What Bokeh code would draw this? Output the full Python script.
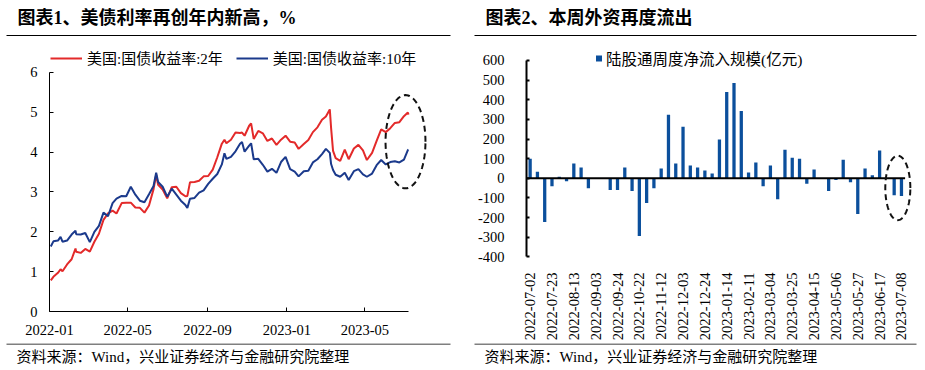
import numpy as np
import pandas as pd
from bokeh.plotting import figure
from bokeh.models import (FixedTicker, Legend, LegendItem, PolyAnnotation, ColumnDataSource)
from bokeh.layouts import column, row
from bokeh.embed import file_html
from bokeh.resources import INLINE
from bokeh.core.properties import value

# ---------------- data: chart 1 (US Treasury yields, %) ----------------
yield_dates = [
    "2022-01-03", "2022-01-07", "2022-01-14", "2022-01-18", "2022-01-21", "2022-01-28",
    "2022-02-04", "2022-02-10", "2022-02-11", "2022-02-18", "2022-02-25",
    "2022-03-04", "2022-03-11", "2022-03-18", "2022-03-25",
    "2022-04-01", "2022-04-08", "2022-04-14", "2022-04-22", "2022-04-29",
    "2022-05-06", "2022-05-13", "2022-05-20", "2022-05-27",
    "2022-06-03", "2022-06-10", "2022-06-14", "2022-06-17", "2022-06-24",
    "2022-07-01", "2022-07-08", "2022-07-15", "2022-07-22", "2022-07-29",
    "2022-08-01", "2022-08-05", "2022-08-12", "2022-08-19", "2022-08-26",
    "2022-09-02", "2022-09-09", "2022-09-16", "2022-09-23", "2022-09-27", "2022-09-30",
    "2022-10-07", "2022-10-14", "2022-10-21", "2022-10-24", "2022-10-28",
    "2022-11-04", "2022-11-07", "2022-11-11", "2022-11-18", "2022-11-25",
    "2022-12-02", "2022-12-09", "2022-12-16", "2022-12-23", "2022-12-30",
    "2023-01-06", "2023-01-13", "2023-01-19", "2023-01-27",
    "2023-02-03", "2023-02-10", "2023-02-17", "2023-02-24",
    "2023-03-02", "2023-03-08", "2023-03-10", "2023-03-13", "2023-03-17", "2023-03-24", "2023-03-31",
    "2023-04-06", "2023-04-14", "2023-04-21", "2023-04-28",
    "2023-05-04", "2023-05-12", "2023-05-19", "2023-05-26",
    "2023-06-02", "2023-06-09", "2023-06-16", "2023-06-23", "2023-06-30",
    "2023-07-06", "2023-07-07",
]
yield_2y = [
    0.78, 0.87, 0.97, 1.06, 1.01, 1.18,
    1.31, 1.58, 1.50, 1.47, 1.57,
    1.50, 1.75, 1.95, 2.30,
    2.46, 2.53, 2.46, 2.72, 2.73,
    2.73, 2.61, 2.60, 2.48,
    2.66, 3.07, 3.43, 3.18, 3.06,
    2.84, 3.12, 3.13, 2.97, 2.89,
    2.90, 3.24, 3.25, 3.28, 3.39,
    3.40, 3.56, 3.87, 4.21, 4.31, 4.22,
    4.31, 4.49, 4.48, 4.49, 4.41,
    4.66, 4.72, 4.33, 4.53, 4.47,
    4.28, 4.34, 4.18, 4.31, 4.41,
    4.26, 4.24, 4.08, 4.20,
    4.30, 4.50, 4.62, 4.81,
    4.89, 5.07, 4.60, 4.03, 3.85, 3.78, 4.06,
    3.82, 4.09, 4.18, 4.04,
    3.80, 3.98, 4.28, 4.57,
    4.50, 4.60, 4.73, 4.75, 4.90,
    4.99, 4.94,
]
yield_10y = [
    1.63, 1.76, 1.78, 1.87, 1.75, 1.78,
    1.93, 2.03, 1.94, 1.93, 1.97,
    1.74, 2.00, 2.15, 2.48,
    2.39, 2.72, 2.83, 2.90, 2.89,
    3.13, 2.93, 2.78, 2.74,
    2.94, 3.15, 3.48, 3.25, 3.13,
    2.88, 3.08, 2.93, 2.78, 2.67,
    2.60, 2.83, 2.85, 2.98, 3.04,
    3.20, 3.33, 3.45, 3.69, 3.97, 3.83,
    3.88, 4.02, 4.21, 4.25, 4.01,
    4.16, 4.22, 3.82, 3.83, 3.68,
    3.51, 3.58, 3.48, 3.75, 3.88,
    3.57, 3.51, 3.39, 3.52,
    3.53, 3.74, 3.82, 3.95,
    4.08, 3.98, 3.70, 3.55, 3.43, 3.38, 3.48,
    3.30, 3.52, 3.57, 3.44,
    3.38, 3.46, 3.67, 3.80,
    3.69, 3.75, 3.77, 3.74, 3.81,
    4.05, 4.06,
]
left_tick_labels = ["2022-01", "2022-05", "2022-09", "2023-01", "2023-05"]
left_y_ticks = [0, 1, 2, 3, 4, 5, 6]
left_series_names = ["美国:国债收益率:2年", "美国:国债收益率:10年"]

# ---------------- data: chart 2 (northbound weekly net inflow, 100m CNY) ----------------
flow_weeks = [
    "2022-07-02", "2022-07-09", "2022-07-16", "2022-07-23", "2022-07-30", "2022-08-06",
    "2022-08-13", "2022-08-20", "2022-08-27", "2022-09-03", "2022-09-10", "2022-09-17",
    "2022-09-24", "2022-10-01", "2022-10-15", "2022-10-22", "2022-10-29", "2022-11-05",
    "2022-11-12", "2022-11-19", "2022-11-26", "2022-12-03", "2022-12-10", "2022-12-17",
    "2022-12-24", "2022-12-31", "2023-01-07", "2023-01-14", "2023-01-21", "2023-02-04",
    "2023-02-11", "2023-02-18", "2023-02-25", "2023-03-04", "2023-03-11", "2023-03-18",
    "2023-03-25", "2023-04-01", "2023-04-08", "2023-04-15", "2023-04-22", "2023-04-29",
    "2023-05-06", "2023-05-13", "2023-05-20", "2023-05-27", "2023-06-03", "2023-06-10",
    "2023-06-17", "2023-06-24", "2023-07-01", "2023-07-08",
]
flow_values = [
    100, 34, -222, -40, 8, -15,
    75, 55, -50, 0, 0, -60,
    -60, 55, -65, -293, -125, -50,
    50, 323, 75, 262, 65, 55,
    40, 25, 197, 439, 485, 343,
    30, 80, -40, 65, -106, 146,
    105, 100, -28, 45, 0, -65,
    -8, 95, -20, -181, 50, 15,
    141, 0, -86, -90,
]
flow_y_ticks = [-400, -300, -200, -100, 0, 100, 200, 300, 400, 500, 600]
flow_series_name = "陆股通周度净流入规模(亿元)"

title_1 = "图表1、美债利率再创年内新高，%"
title_2 = "图表2、本周外资再度流出"
source_note = "资料来源：Wind，兴业证券经济与金融研究院整理"

# ---------------- styles ----------------
SERIF = "Liberation Serif, Noto Sans CJK SC"
RED = "#E32A2A"
NAVY = "#1B3A8C"
BAR = "#0B4F9C"


def style_axis(ax, size="14.5px"):
    ax.axis_line_color = "black"
    ax.major_tick_line_color = "black"
    ax.minor_tick_line_color = None
    ax.major_label_text_font = SERIF
    ax.major_label_text_font_size = size
    ax.major_label_text_color = "black"


def decor_fig(w, h):
    f = figure(width=w, height=h, x_range=(0, w), y_range=(h, 0),
               output_backend="svg", toolbar_location=None,
               x_axis_location=None, y_axis_location=None, min_border=0)
    f.grid.visible = False
    f.outline_line_color = None
    return f


def ellipse_pts(cx, cy, ax, by, n=97):
    t = np.linspace(0, 2 * np.pi, n)
    return list(cx + ax * np.cos(t)), list(cy + by * np.sin(t))


# ---------------- chart 1 ----------------
dts = pd.to_datetime(yield_dates)
x_start_ms = pd.Timestamp(left_tick_labels[0] + "-01").value / 1e6
x_end_ms = dts[-1].value / 1e6
span_ms = x_end_ms - x_start_ms
# frame: 381 px wide, axis line covers the first 359 px; 263 px tall, axis covers 241 px
x_range_end = x_start_ms + span_ms * 381.0 / 359.0
y_range_top = left_y_ticks[-1] * 263.0 / 241.0

pl = figure(width=462, height=293, x_axis_type="datetime",
            x_range=(x_start_ms, x_range_end), y_range=(left_y_ticks[0], y_range_top),
            output_backend="svg", toolbar_location=None,
            min_border_left=49, min_border_right=32, min_border_top=0, min_border_bottom=30)
pl.grid.visible = False
pl.outline_line_color = None

r2 = pl.line(dts, yield_2y, line_color=RED, line_width=2)
r10 = pl.line(dts, yield_10y, line_color=NAVY, line_width=2)

tick_ms = [pd.Timestamp(t + "-01").value / 1e6 for t in left_tick_labels]
pl.xaxis.ticker = FixedTicker(ticks=tick_ms)
pl.xaxis.major_label_overrides = {ms: lab for ms, lab in zip(tick_ms, left_tick_labels)}
style_axis(pl.xaxis[0])
pl.xaxis.bounds = (x_start_ms, x_end_ms)
pl.xaxis.major_tick_in = 4
pl.xaxis.major_tick_out = 0
pl.xaxis.major_label_standoff = 13

pl.yaxis.ticker = FixedTicker(ticks=left_y_ticks)
style_axis(pl.yaxis[0])
pl.yaxis.bounds = (left_y_ticks[0], left_y_ticks[-1])
pl.yaxis.major_tick_in = 4
pl.yaxis.major_tick_out = 0
pl.yaxis.major_label_standoff = 12

leg1 = Legend(items=[LegendItem(label=left_series_names[0], renderers=[r2]),
                     LegendItem(label=left_series_names[1], renderers=[r10])],
              location=(1, 243), orientation="horizontal",
              glyph_width=32, glyph_height=20, label_height=20, label_standoff=5,
              spacing=13, padding=0, margin=0,
              border_line_color=None, background_fill_alpha=0,
              label_text_font=SERIF, label_text_font_size="15px", label_text_color="black")
pl.add_layout(leg1)

# dashed highlight ellipse around the latest readings
day_ms = 86400000.0
ex, ey = ellipse_pts(x_end_ms - 4.6 * day_ms, 4.26, 30.7 * day_ms, 1.17)
pl.add_layout(PolyAnnotation(xs=ex, ys=ey, xs_units="data", ys_units="data",
                             fill_alpha=0, line_color="#111111", line_alpha=1.0,
                             line_width=2, line_dash="6 4"))

# ---------------- chart 2 ----------------
n_weeks = len(flow_weeks)
week_idx = list(range(n_weeks))
# frame 386 px wide (52 slots over 378.6 px); 263 px tall (axis -400..600 over 198 px)
px_per_slot = 378.6 / n_weeks
x2_end = -0.5 + 386.0 / px_per_slot
px_per_unit = 198.0 / (flow_y_ticks[-1] - flow_y_ticks[0])
y2_top = flow_y_ticks[-1] + 10.0 / px_per_unit
y2_bot = flow_y_ticks[0] - 55.0 / px_per_unit

pr = figure(width=463, height=293,
            x_range=(-0.5, x2_end), y_range=(y2_bot, y2_top),
            output_backend="svg", toolbar_location=None,
            min_border_left=64, min_border_right=13, min_border_top=0, min_border_bottom=30)
pr.grid.visible = False
pr.outline_line_color = None

pr.vbar(x=week_idx, top=flow_values, width=0.45, fill_color=BAR, line_color=None)
# zero baseline across the category span
pr.segment(x0=[-0.5], y0=[0], x1=[n_weeks - 0.5], y1=[0], line_color="black", line_width=2)

style_axis(pr.yaxis[0])
pr.yaxis.ticker = FixedTicker(ticks=flow_y_ticks)
pr.yaxis.major_label_overrides = {v: str(v) for v in flow_y_ticks}
pr.yaxis.bounds = (flow_y_ticks[0], flow_y_ticks[-1])
pr.yaxis.axis_line_width = 2
pr.yaxis.major_tick_line_width = 2
pr.yaxis.major_tick_in = 3
pr.yaxis.major_tick_out = 0
pr.yaxis.major_label_standoff = 22

style_axis(pr.xaxis[0])
label_idx = list(range(0, n_weeks, 3))
pr.xaxis.ticker = FixedTicker(ticks=label_idx)
pr.xaxis.major_label_overrides = {i: flow_weeks[i] for i in label_idx}
pr.xaxis.axis_line_color = None
pr.xaxis.major_tick_line_color = None
pr.xaxis.major_label_orientation = np.pi / 2
pr.xaxis.major_label_standoff = -45

# legend swatch only (NaN y -> nothing drawn in the plot area)
leg_src = ColumnDataSource(data=dict(x=[week_idx[0]], y=[float("nan")]))
leg_r = pr.scatter(x="x", y="y", source=leg_src, marker="square", size=6,
                   fill_color=BAR, line_color=None)
leg2 = Legend(items=[LegendItem(label=flow_series_name, renderers=[leg_r])],
              location=(65, 242), orientation="horizontal",
              glyph_width=15, glyph_height=20, label_height=20, label_standoff=0,
              padding=0, margin=0, border_line_color=None, background_fill_alpha=0,
              label_text_font=SERIF, label_text_font_size="15.5px", label_text_color="black")
pr.add_layout(leg2)

# dashed highlight ellipse around the latest two weeks
ex2, ey2 = ellipse_pts(n_weeks - 1.5, -49.0, 1.72, 164.0)
pr.add_layout(PolyAnnotation(xs=ex2, ys=ey2, xs_units="data", ys_units="data",
                             fill_alpha=0, line_color="#111111", line_alpha=1.0,
                             line_width=2, line_dash="6 4"))

# ---------------- header / footer ----------------
ph = decor_fig(925, 50)
ph.text(x=[17, 485], y=[17, 17], text=[title_1, title_2], text_font=value(SERIF),
        text_font_style="bold", text_font_size="18px", text_baseline="middle",
        text_align="left", text_color="black")
ph.segment(x0=[6, 474], y0=[35, 35], x1=[450, 916], y1=[35, 35],
           line_color="black", line_width=1)

pf = decor_fig(925, 27)
pf.segment(x0=[6, 474], y0=[0.5, 0.5], x1=[450, 916], y1=[0.5, 0.5],
           line_color="black", line_width=1)
pf.text(x=[16, 484], y=[13, 13], text=[source_note, source_note], text_font=value(SERIF),
        text_font_size="15px", text_baseline="middle", text_align="left", text_color="black")

layout = column(ph, row(pl, pr), pf)
open("out.html", "w").write(file_html(layout, INLINE))
